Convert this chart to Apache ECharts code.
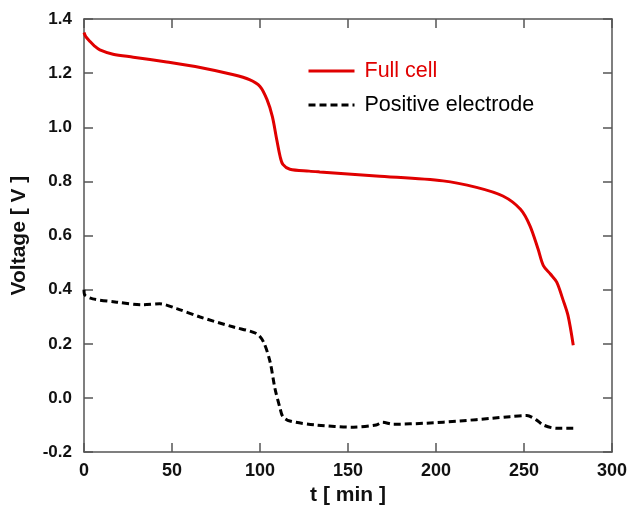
<!DOCTYPE html>
<html>
<head>
<meta charset="utf-8">
<script src="https://cdn.jsdelivr.net/npm/echarts@6/dist/echarts.min.js"></script>
<style>html,body{margin:0;padding:0;background:#fff}#c{width:630px;height:511px}</style>
</head>
<body>
<div id="c"></div>
<script>
// Full cell
var fullT = [0, 1, 3.4, 6, 9, 16.5, 28, 47, 66, 85, 94, 100, 104, 107, 109.5, 111.4, 113, 117, 128, 134, 166, 204, 223, 238, 248, 253.4, 258, 261, 265, 268.6, 272, 275, 278];
var fullV = [1.35, 1.335, 1.317, 1.30, 1.286, 1.270, 1.259, 1.241, 1.221, 1.194, 1.176, 1.151, 1.102, 1.04, 0.955, 0.893, 0.863, 0.845, 0.838, 0.835, 0.82, 0.802, 0.778, 0.746, 0.697, 0.636, 0.55, 0.489, 0.458, 0.428, 0.366, 0.305, 0.195];
// Positive electrode
var posT = [0, 0.5, 5, 18.6, 33.7, 43, 52.7, 66, 85, 98, 102, 105.7, 108.5, 111.4, 113, 117, 132, 153, 166, 169.5, 175.7, 194.7, 213.6, 232, 242, 251.6, 257, 261, 268.6, 278];
var posV = [0.40, 0.38, 0.366, 0.354, 0.344, 0.348, 0.330, 0.299, 0.262, 0.238, 0.207, 0.134, 0.035, -0.038, -0.069, -0.085, -0.1, -0.108, -0.1, -0.09, -0.097, -0.093, -0.085, -0.075, -0.069, -0.065, -0.081, -0.1, -0.112, -0.112];
var seriesNames = ['Full cell', 'Positive electrode'];
var xTitle = 't [ min ]';
var yTitle = 'Voltage [ V ]';

function pairs(t, v) { return t.map(function (x, i) { return [x, v[i]]; }); }

var axisColor = '#555';
var font = 'Liberation Sans, Arial, sans-serif';
var chart = echarts.init(document.getElementById('c'), null, { renderer: 'canvas' });
function frameAxis(extra) {
  return Object.assign({
    axisLine: { show: true, onZero: false, lineStyle: { color: axisColor, width: 1.5 } },
    axisTick: { show: true, inside: true, length: 9, lineStyle: { color: axisColor, width: 1.5 } },
    splitLine: { show: false }
  }, extra);
}
chart.setOption({
  animation: false,
  grid: { left: 84, right: 18, top: 19, bottom: 57, containLabel: false },
  legend: {
    orient: 'vertical', left: 307, top: 60, padding: 0, itemGap: 12, itemWidth: 46, itemHeight: 20,
    itemStyle: { color: 'transparent', borderWidth: 0, opacity: 0 },
    lineStyle: { width: 3 },
    textStyle: { fontFamily: font, fontSize: 21.5, padding: [0, 0, 0, 5] },
    data: [
      { name: seriesNames[0], textStyle: { color: '#e00000' } },
      { name: seriesNames[1], textStyle: { color: '#000' } }
    ]
  },
  xAxis: [
    frameAxis({
      type: 'value', min: 0, max: 300, interval: 50, position: 'bottom',
      name: xTitle, nameLocation: 'middle', nameGap: 28,
      nameTextStyle: { fontFamily: font, fontSize: 21, fontWeight: 'bold', color: '#111' },
      axisLabel: { fontFamily: font, fontSize: 18, fontWeight: 'bold', color: '#111', margin: 10 }
    }),
    frameAxis({
      type: 'value', min: 0, max: 300, interval: 50, position: 'top',
      axisLabel: { show: false }
    })
  ],
  yAxis: [
    frameAxis({
      type: 'value', min: -0.2, max: 1.4, interval: 0.2, position: 'left',
      name: yTitle, nameLocation: 'middle', nameGap: 54,
      nameTextStyle: { fontFamily: font, fontSize: 21, fontWeight: 'bold', color: '#111' },
      axisLabel: { fontFamily: font, fontSize: 17, fontWeight: 'bold', color: '#111', margin: 12,
        formatter: function (v) { return v.toFixed(1); } }
    }),
    frameAxis({
      type: 'value', min: -0.2, max: 1.4, interval: 0.2, position: 'right',
      axisLabel: { show: false }
    })
  ],
  series: [
    {
      name: seriesNames[0], type: 'line', data: pairs(fullT, fullV), showSymbol: false, symbol: 'none',
      smooth: 0.3, color: '#e00000', lineStyle: { color: '#e00000', width: 3 }
    },
    {
      name: seriesNames[1], type: 'line', data: pairs(posT, posV), showSymbol: false, symbol: 'none',
      smooth: 0.3, color: '#000', lineStyle: { color: '#000', width: 3, type: [7, 4] }
    }
  ]
});
</script>
</body>
</html>
